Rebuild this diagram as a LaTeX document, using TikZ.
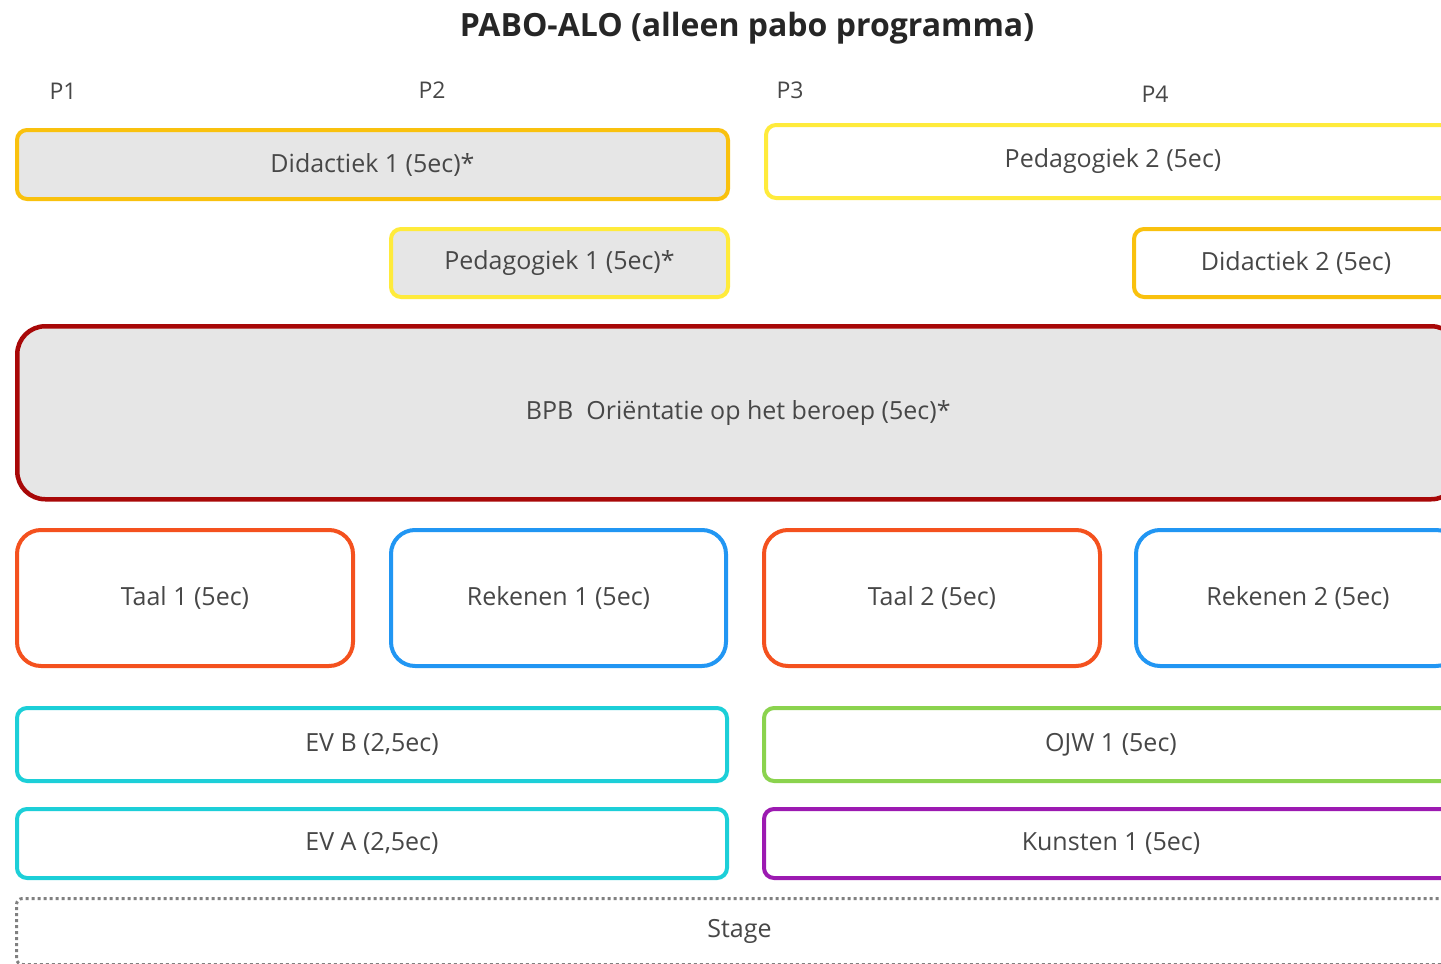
\documentclass[tikz,border=0pt]{standalone}
\usepackage{fontspec}
\setmainfont{Open Sans}
\definecolor{cgold}{HTML}{F9C10E}
\definecolor{cyel}{HTML}{FFEB3B}
\definecolor{cdred}{HTML}{A80808}
\definecolor{corange}{HTML}{F4511E}
\definecolor{cblue}{HTML}{2196F3}
\definecolor{ccyan}{HTML}{1CCFD8}
\definecolor{cgreen}{HTML}{8BD34E}
\definecolor{cpurple}{HTML}{9C1AB1}
\definecolor{cfill}{HTML}{E6E6E6}
\definecolor{ctext}{HTML}{474747}
\tikzset{
  box/.style={draw, line width=4pt, rounded corners=10pt, inner sep=0pt, anchor=north west,
    font=\fontsize{25}{29}\selectfont, text=ctext},
  bigbox/.style={box, rounded corners=28pt},
  midbox/.style={box, rounded corners=24pt},
  plabel/.style={font=\fontsize{23}{26}\selectfont, text=ctext, anchor=base},
}
\begin{document}
\begin{tikzpicture}[x=1pt,y=-1pt]
\useasboundingbox (0,0) rectangle (1441,964);
\clip (0,0) rectangle (1441,964);
\node[font=\bfseries\fontsize{32}{36}\selectfont, text=black!85, anchor=base] (title) at (747,36) {PABO-ALO (alleen pabo programma)};
\node[plabel] (p1) at (63,99) {P1};
\node[plabel] (p2) at (432,98) {P2};
\node[plabel] (p3) at (790,98) {P3};
\node[plabel] (p4) at (1155,102) {P4};

\node[box, draw=cgold, fill=cfill, minimum width=711pt, minimum height=69pt] (did1) at (15,128) {Didactiek 1 (5ec)*};
\node[box, draw=cyel, fill=cfill, minimum width=337pt, minimum height=68pt] (ped1) at (389,227) {Pedagogiek 1 (5ec)*};
\node[box, draw=cyel, fill=white, minimum width=694pt, minimum height=73pt] (ped2) at (764,123) {Pedagogiek 2 (5ec)};
\node[box, draw=cgold, fill=white, minimum width=324pt, minimum height=68pt] (did2) at (1132,227) {Didactiek 2 (5ec)};

\node[bigbox, draw=cdred, line width=4.5pt, fill=cfill, minimum width=1442pt, minimum height=173pt] (bpb) at (15,324) {BPB\ \ Oriëntatie op het beroep (5ec)*};

\node[midbox, draw=corange, fill=white, minimum width=336pt, minimum height=136pt] (taal1) at (15,528) {Taal 1 (5ec)};
\node[midbox, draw=cblue, fill=white, minimum width=335pt, minimum height=136pt] (rek1) at (389,528) {Rekenen 1 (5ec)};
\node[midbox, draw=corange, fill=white, minimum width=336pt, minimum height=136pt] (taal2) at (762,528) {Taal 2 (5ec)};
\node[midbox, draw=cblue, fill=white, minimum width=324pt, minimum height=136pt] (rek2) at (1134,528) {Rekenen 2 (5ec)};

\node[box, draw=ccyan, fill=white, minimum width=710pt, minimum height=73pt] (evb) at (15,706) {EV B (2,5ec)};
\node[box, draw=ccyan, fill=white, minimum width=710pt, minimum height=69pt] (eva) at (15,807) {EV A (2,5ec)};
\node[box, draw=cgreen, fill=white, minimum width=694pt, minimum height=73pt] (ojw) at (762,706) {OJW 1 (5ec)};
\node[box, draw=cpurple, fill=white, minimum width=694pt, minimum height=69pt] (kun) at (762,807) {Kunsten 1 (5ec)};

\node[box, draw=black!50, line width=3pt, dash pattern=on 3pt off 3pt, rounded corners=6pt, fill=white, minimum width=1446pt, minimum height=66pt] (stage) at (15,897) {Stage};
\end{tikzpicture}
\end{document}
